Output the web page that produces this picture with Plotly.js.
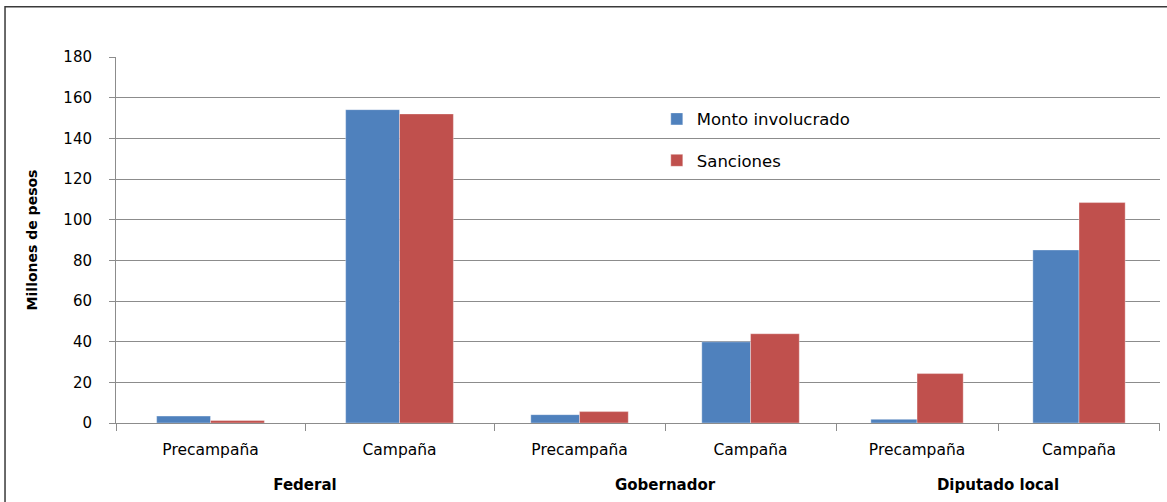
<!DOCTYPE html>
<html>
<head>
<meta charset="utf-8">
<script src="https://cdn.plot.ly/plotly-3.0.1.min.js"></script>
<style>html,body{margin:0;padding:0;background:#fff;}#chart{width:1167px;height:502px;}</style>
</head>
<body>
<div id="chart"></div>
<script>
const groups = ['Federal', 'Gobernador', 'Diputado local'];
const stages = ['Precampaña', 'Campaña'];
const montoFederal = [3.4, 154.1];
const montoGobernador = [4.1, 39.9];
const montoDiputado = [1.8, 85.1];
const sancionesFederal = [1.2, 152.0];
const sancionesGobernador = [5.6, 43.9];
const sancionesDiputado = [24.3, 108.4];
const seriesNames = ['Monto involucrado', 'Sanciones'];
const yTitle = 'Millones de pesos';

const colors = ['#4F81BD', '#C0504D'];
const FONT = 'DejaVu Sans, sans-serif';
const montoByGroup = [montoFederal, montoGobernador, montoDiputado];
const sancByGroup = [sancionesFederal, sancionesGobernador, sancionesDiputado];
const axisIds = ['x', 'x2', 'x3'];

const traces = [];
groups.forEach((g, i) => {
  [montoByGroup[i], sancByGroup[i]].forEach((vals, s) => {
    traces.push({
      type: 'bar', x: stages, y: vals, name: seriesNames[s],
      xaxis: axisIds[i], yaxis: 'y',
      marker: {color: colors[s], line: {color: 'rgba(255,255,255,0.35)', width: 1}},
      showlegend: i === 0, legendgroup: 'g' + s, hoverinfo: 'y'
    });
  });
});

const domains = [[0, 0.3621], [0.3621, 0.6897], [0.6897, 1]];
const grid = '#8c8c8c';
function xax(i) {
  return {
    domain: domains[i], anchor: 'y', type: 'category',
    showgrid: false, showline: true, linecolor: grid, linewidth: 1,
    ticks: 'outside', tickson: 'boundaries', ticklen: 7, tickcolor: grid, tickwidth: 1,
    tickfont: {family: FONT, size: 15.5, color: '#000'},
    ticklabelstandoff: 12,
    title: {text: '<b>' + groups[i] + '</b>', font: {family: FONT, size: 15, color: '#000'}, standoff: 21},
    fixedrange: true
  };
}
const layout = {
  width: 1167, height: 502,
  margin: {l: 116, r: 7, t: 57, b: 79},
  paper_bgcolor: '#fff', plot_bgcolor: 'rgba(0,0,0,0)',
  barmode: 'group', bargap: 0.43, bargroupgap: 0,
  font: {family: FONT, size: 14, color: '#000'},
  xaxis: xax(0), xaxis2: xax(1), xaxis3: xax(2),
  yaxis: {
    range: [0, 180], dtick: 20, tick0: 0, anchor: 'x',
    showgrid: true, gridcolor: grid, gridwidth: 1,
    showline: true, linecolor: grid, linewidth: 1,
    ticks: 'outside', ticklen: 6, tickcolor: grid,
    zeroline: false,
    tickfont: {family: FONT, size: 15, color: '#000'},
    ticklabelstandoff: 14,
    title: {text: '<b>' + yTitle + '</b>', font: {family: FONT, size: 14, color: '#000'}, standoff: 22},
    fixedrange: true
  },
  legend: {
    x: 0.518, y: 0.878, xanchor: 'left', yanchor: 'top',
    bgcolor: 'rgba(0,0,0,0)', borderwidth: 0,
    font: {family: FONT, size: 16.5, color: '#000'},
    traceorder: 'grouped', tracegroupgap: 17
  },
  shapes: [{
    type: 'rect', xref: 'paper', yref: 'paper',
    x0: -0.1063, x1: 1.2, y0: -0.4, y1: 1.137,
    line: {color: '#3a3a3a', width: 1.5}, fillcolor: 'rgba(0,0,0,0)', layer: 'below'
  }],
  showlegend: true
};
Plotly.newPlot('chart', traces, layout, {displayModeBar: false, staticPlot: true});
</script>
</body>
</html>
